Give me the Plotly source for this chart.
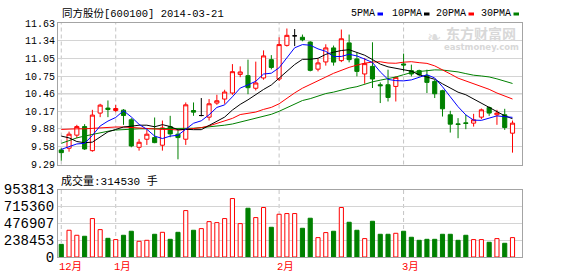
import plotly.graph_objects as go

# ---------------- data ----------------
dates = [
    "2013-12-23", "2013-12-24", "2013-12-25", "2013-12-26", "2013-12-27", "2013-12-30", "2013-12-31",
    "2014-01-02", "2014-01-03", "2014-01-06", "2014-01-07", "2014-01-08", "2014-01-09", "2014-01-10",
    "2014-01-13", "2014-01-14", "2014-01-15", "2014-01-16", "2014-01-17", "2014-01-20", "2014-01-21",
    "2014-01-22", "2014-01-23", "2014-01-24", "2014-01-27", "2014-01-28", "2014-01-29", "2014-01-30",
    "2014-02-07", "2014-02-10", "2014-02-11", "2014-02-12", "2014-02-13", "2014-02-14", "2014-02-17",
    "2014-02-18", "2014-02-19", "2014-02-20", "2014-02-21", "2014-02-24", "2014-02-25", "2014-02-26",
    "2014-02-27", "2014-02-28",
    "2014-03-03", "2014-03-04", "2014-03-05", "2014-03-06", "2014-03-07", "2014-03-10", "2014-03-11",
    "2014-03-12", "2014-03-13", "2014-03-14", "2014-03-17", "2014-03-18", "2014-03-19", "2014-03-20",
    "2014-03-21",
]
opens = [
    9.531, 9.559, 9.775, 9.917, 9.519, 10.140, 10.223, 10.183, 10.189, 10.029,
    9.575, 9.708, 9.735, 9.609, 9.917, 9.791, 9.708, 10.183, 10.100, 10.073,
    10.306, 10.372, 10.472, 10.780, 10.759, 10.551, 10.721, 11.024, 10.704, 11.260,
    11.418, 11.394, 11.315, 10.867, 10.986, 11.218, 11.008, 11.301, 11.036, 10.787,
    10.913, 10.609, 10.609, 10.581, 10.953, 10.842, 10.842, 10.759, 10.664, 10.510,
    10.112, 9.962, 9.979, 9.974, 10.073, 10.233, 10.112, 10.112, 9.808,
]
highs = [
    9.559, 9.834, 9.946, 9.957, 10.194, 10.294, 10.349, 10.277, 10.206, 10.057,
    9.713, 9.862, 10.067, 10.017, 10.095, 9.862, 10.316, 10.316, 10.389, 10.372,
    10.443, 10.526, 10.950, 10.913, 11.024, 10.991, 11.177, 11.099, 11.393, 11.539,
    11.530, 11.439, 11.328, 11.041, 11.278, 11.257, 11.522, 11.439, 11.135, 11.052,
    11.311, 10.648, 10.858, 10.747, 11.124, 10.941, 10.858, 10.858, 10.692, 10.526,
    10.178, 10.057, 10.112, 10.128, 10.216, 10.249, 10.194, 10.211, 10.017,
]
lows = [
    9.353, 9.502, 9.725, 9.531, 9.502, 10.073, 10.073, 10.156, 9.946, 9.575,
    9.519, 9.614, 9.642, 9.519, 9.741, 9.376, 9.614, 10.095, 10.087, 10.017,
    10.277, 10.294, 10.443, 10.734, 10.452, 10.515, 10.692, 10.863, 10.671, 11.240,
    11.248, 11.328, 10.830, 10.830, 10.925, 10.925, 10.983, 10.979, 10.747, 10.626,
    10.555, 10.306, 10.332, 10.332, 10.830, 10.747, 10.747, 10.472, 10.389, 10.083,
    9.818, 9.725, 9.874, 9.917, 10.040, 10.095, 9.946, 9.862, 9.486,
]
closes = [
    9.486, 9.791, 9.917, 9.547, 10.107, 10.272, 10.199, 10.216, 10.100, 9.597,
    9.658, 9.791, 9.652, 9.896, 9.796, 9.735, 10.277, 10.156, 10.100, 10.294,
    10.344, 10.488, 10.825, 10.820, 10.560, 10.638, 11.086, 10.895, 11.273, 11.426,
    11.418, 11.351, 10.847, 10.970, 11.218, 10.983, 11.369, 11.024, 10.830, 10.958,
    10.704, 10.593, 10.399, 10.731, 10.936, 10.787, 10.775, 10.648, 10.460, 10.211,
    9.957, 9.952, 9.969, 10.029, 10.194, 10.140, 10.140, 9.901, 9.974,
]
volumes = [
    179000, 378000, 307000, 293000, 543000, 387000, 264000, 246000, 307000, 364000,
    222000, 236000, 321000, 349000, 250000, 349000, 656000, 378000, 401000, 500000,
    486000, 543000, 826000, 472000, 689000, 557000, 699000, 420000, 604000, 614000,
    614000, 406000, 548000, 274000, 345000, 364000, 699000, 491000, 378000, 260000,
    505000, 321000, 321000, 335000, 364000, 279000, 236000, 250000, 250000, 321000,
    321000, 236000, 307000, 246000, 246000, 208000, 260000, 194000, 274000,
]
ma5 = [
    9.54, 9.58, 9.63, 9.64, 9.770, 9.927, 10.008, 10.068, 10.179, 10.077,
    9.954, 9.872, 9.760, 9.719, 9.759, 9.774, 9.871, 9.972, 10.013, 10.112,
    10.234, 10.276, 10.410, 10.554, 10.607, 10.666, 10.786, 10.800, 10.890, 11.064,
    11.220, 11.273, 11.263, 11.202, 11.161, 11.074, 11.077, 11.113, 11.085, 11.033,
    10.977, 10.822, 10.697, 10.677, 10.673, 10.689, 10.726, 10.775, 10.721, 10.576,
    10.410, 10.246, 10.110, 10.024, 10.020, 10.057, 10.094, 10.081, 10.070,
]
ma10 = [
    9.76, 9.73, 9.67, 9.65, 9.66, 9.75, 9.83, 9.87, 9.91, 9.923,
    9.940, 9.940, 9.914, 9.949, 9.918, 9.864, 9.872, 9.866, 9.866, 9.936,
    10.004, 10.074, 10.191, 10.284, 10.360, 10.450, 10.531, 10.605, 10.722, 10.836,
    10.943, 11.029, 11.031, 11.046, 11.112, 11.147, 11.175, 11.188, 11.144, 11.097,
    11.025, 10.950, 10.905, 10.881, 10.853, 10.833, 10.774, 10.736, 10.699, 10.624,
    10.550, 10.486, 10.443, 10.372, 10.298, 10.234, 10.170, 10.095, 10.047,
]
ma20 = [
    9.87, 9.88, 9.88, 9.88, 9.89, 9.90, 9.90, 9.91, 9.91, 9.90,
    9.89, 9.88, 9.88, 9.87, 9.87, 9.86, 9.87, 9.88, 9.90, 9.929,
    9.972, 10.007, 10.053, 10.116, 10.139, 10.157, 10.201, 10.235, 10.294, 10.386,
    10.474, 10.552, 10.611, 10.665, 10.736, 10.798, 10.853, 10.896, 10.933, 10.966,
    10.984, 10.989, 10.968, 10.964, 10.982, 10.990, 10.974, 10.962, 10.921, 10.861,
    10.788, 10.718, 10.674, 10.627, 10.575, 10.533, 10.472, 10.416, 10.373,
]
ma30 = [
    9.64, 9.69, 9.73, 9.76, 9.79, 9.82, 9.84, 9.86, 9.87, 9.88,
    9.88, 9.88, 9.88, 9.88, 9.88, 9.88, 9.89, 9.89, 9.90, 9.91,
    9.92, 9.94, 9.96, 9.99, 10.02, 10.05, 10.08, 10.12, 10.17, 10.231,
    10.296, 10.348, 10.379, 10.426, 10.463, 10.487, 10.526, 10.553, 10.577, 10.623,
    10.657, 10.684, 10.709, 10.737, 10.775, 10.810, 10.827, 10.843, 10.855, 10.852,
    10.839, 10.821, 10.793, 10.767, 10.754, 10.738, 10.706, 10.673, 10.630,
]
price_ticks = [9.29, 9.58, 9.88, 10.17, 10.46, 10.75, 11.05, 11.34, 11.63]
vol_ticks = [0, 238453, 476907, 715360, 953813]
ma_names = ["5PMA", "10PMA", "20PMA", "30PMA"]
ma_colors = ["#0000ff", "#000000", "#ff0000", "#008000"]
month_names = {12: "12月", 1: "1月", 2: "2月", 3: "3月"}
title_text = "同方股份[600100] 2014-03-21"
vol_label = "成交量:314530 手"

n = len(dates)
for arr in (opens, highs, lows, closes, volumes, ma5, ma10, ma20, ma30):
    assert len(arr) == n, len(arr)

# ---------------- style / layout helpers ----------------
RED = "#ff0000"
GREEN = "#008000"
FRAME = "#a4a4a4"
GRID = "#d4d4d4"
W, H = 578, 276
ML, MR, MT, MB = 58, 56, 23, 19
PW, PH = W - ML - MR, H - MT - MB
MONO = "Liberation Mono, Noto Sans CJK SC, monospace"


def px(xp):
    return (xp - ML) / PW


def py(yp):
    return (H - MB - yp) / PH


price_dom = [py(164.5), 1.0]
vol_dom = [0.0, py(189.5)]

xs = list(range(n))
up = [i for i in xs if closes[i] > opens[i]]
dn = [i for i in xs if closes[i] < opens[i]]
dj = [i for i in xs if closes[i] == opens[i]]


def sub(arr, idx):
    return [arr[i] for i in idx]


fig = go.Figure()

for idx, col, fill in [(up, RED, "#ffffff"), (dn, GREEN, GREEN), (dj, "#000000", "#000000")]:
    fig.add_trace(go.Candlestick(
        x=idx, open=sub(opens, idx), high=sub(highs, idx), low=sub(lows, idx), close=sub(closes, idx),
        increasing=dict(line=dict(color=col, width=1), fillcolor=fill),
        decreasing=dict(line=dict(color=col, width=1), fillcolor=fill),
        whiskerwidth=0, xaxis="x", yaxis="y", showlegend=False, hoverinfo="skip",
    ))

for vals, col in zip([ma30, ma20, ma10, ma5], ma_colors[::-1]):
    fig.add_trace(go.Scatter(x=xs, y=vals, mode="lines", line=dict(color=col, width=1),
                             xaxis="x", yaxis="y", showlegend=False, hoverinfo="skip"))

vol_fill = [GREEN if closes[i] < opens[i] else "#ffffff" for i in xs]
vol_line = [GREEN if closes[i] < opens[i] else RED for i in xs]
fig.add_trace(go.Bar(x=xs, y=volumes, width=0.53,
                     marker=dict(color=vol_fill, line=dict(color=vol_line, width=1)),
                     xaxis="x2", yaxis="y2", showlegend=False, hoverinfo="skip"))

# month boundaries
month_idx = [0] + [i for i in range(1, n) if dates[i][5:7] != dates[i - 1][5:7]]

shapes = []
for i in month_idx:
    for yref in ("y domain", "y2 domain"):
        shapes.append(dict(type="line", xref="x", yref=yref, x0=i, x1=i, y0=0, y1=1,
                           line=dict(color="#c4c4c4", width=1, dash="4px,3px"), layer="below"))
shapes.append(dict(type="line", xref="x domain", yref="y", x0=0, x1=1, y0=10.46, y1=10.46,
                   line=dict(color=FRAME, width=1), layer="below"))

annotations = []
for i in month_idx:
    annotations.append(dict(x=i, y=py(267), xref="x", yref="paper", xanchor="left", yanchor="middle",
                            xshift=-3, text=month_names[int(dates[i][5:7])], showarrow=False, borderpad=0,
                            font=dict(family=MONO, size=10.5, color=RED)))

annotations.append(dict(x=px(61), y=py(14), xref="paper", yref="paper", xanchor="left", yanchor="middle",
                        text=title_text, showarrow=False, borderpad=0,
                        font=dict(family=MONO, size=10.5, color="#000")))
annotations.append(dict(x=px(60), y=py(180.5), xref="paper", yref="paper", xanchor="left", yanchor="middle",
                        text=vol_label, showarrow=False, borderpad=0,
                        font=dict(family=MONO, size=11, color="#000")))

# legend: text + small coloured square
legend_text_right = [376, 422.5, 467, 512]
for name, col, xr in zip(ma_names, ma_colors, legend_text_right):
    annotations.append(dict(x=px(xr), y=py(14), xref="paper", yref="paper", xanchor="right",
                            yanchor="middle", text=name, showarrow=False, borderpad=0,
                            font=dict(family=MONO, size=10, color="#000")))
    shapes.append(dict(type="rect", xref="paper", yref="paper", x0=px(xr + 1.5), x1=px(xr + 7),
                       y0=py(15.5), y1=py(12.5), fillcolor=col, line=dict(width=0)))

# watermark (logo mark + text)
annotations.append(dict(x=px(434), y=py(37), xref="paper", yref="paper", xanchor="center", yanchor="middle",
                        text="<b>❧</b>", showarrow=False, borderpad=0,
                        font=dict(family="DejaVu Sans", size=17, color="#dcdcdc")))
annotations.append(dict(x=px(481), y=py(33), xref="paper", yref="paper", xanchor="center", yanchor="middle",
                        text="<b>东方财富网</b>", showarrow=False, borderpad=0,
                        font=dict(family="Noto Sans CJK SC", size=14, color="#d8d8d8")))
annotations.append(dict(x=px(481), y=py(47.5), xref="paper", yref="paper", xanchor="center", yanchor="middle",
                        text="<b>eastmoney.com</b>", showarrow=False, borderpad=0,
                        font=dict(family="DejaVu Sans", size=8.5, color="#d8d8d8")))

axis_common = dict(showline=True, linecolor=FRAME, linewidth=1, mirror=True, zeroline=False, ticks="",
                   automargin=False)

fig.update_layout(
    template="none",
    width=W, height=H, margin=dict(l=ML, r=MR, t=MT, b=MB, pad=0, autoexpand=False),
    paper_bgcolor="#ffffff", plot_bgcolor="#ffffff",
    boxgap=0.47, boxgroupgap=0.0,
    bargap=0.3,
    showlegend=False, hovermode=False,
    xaxis=dict(domain=[0, 1], range=[-0.42, 59.22], anchor="y", showticklabels=False, showgrid=False,
               rangeslider=dict(visible=False), **axis_common),
    xaxis2=dict(domain=[0, 1], range=[-0.42, 59.22], anchor="y2", matches="x", showticklabels=False,
                showgrid=False, **axis_common),
    yaxis=dict(domain=price_dom, range=[price_ticks[0], price_ticks[-1]], tickmode="array",
               tickvals=price_ticks, ticktext=[f"{v:.2f}" for v in price_ticks],
               showgrid=True, gridcolor=GRID, gridwidth=1,
               tickfont=dict(family=MONO, size=10, color="#000"), **axis_common),
    yaxis2=dict(domain=vol_dom, range=[0, vol_ticks[-1]], tickmode="array", tickvals=vol_ticks,
                ticktext=[str(v) for v in vol_ticks], showgrid=True, gridcolor=GRID, gridwidth=1,
                tickfont=dict(family=MONO, size=14, color="#000"), **axis_common),
    shapes=shapes, annotations=annotations,
)

fig.write_html("out.html")
